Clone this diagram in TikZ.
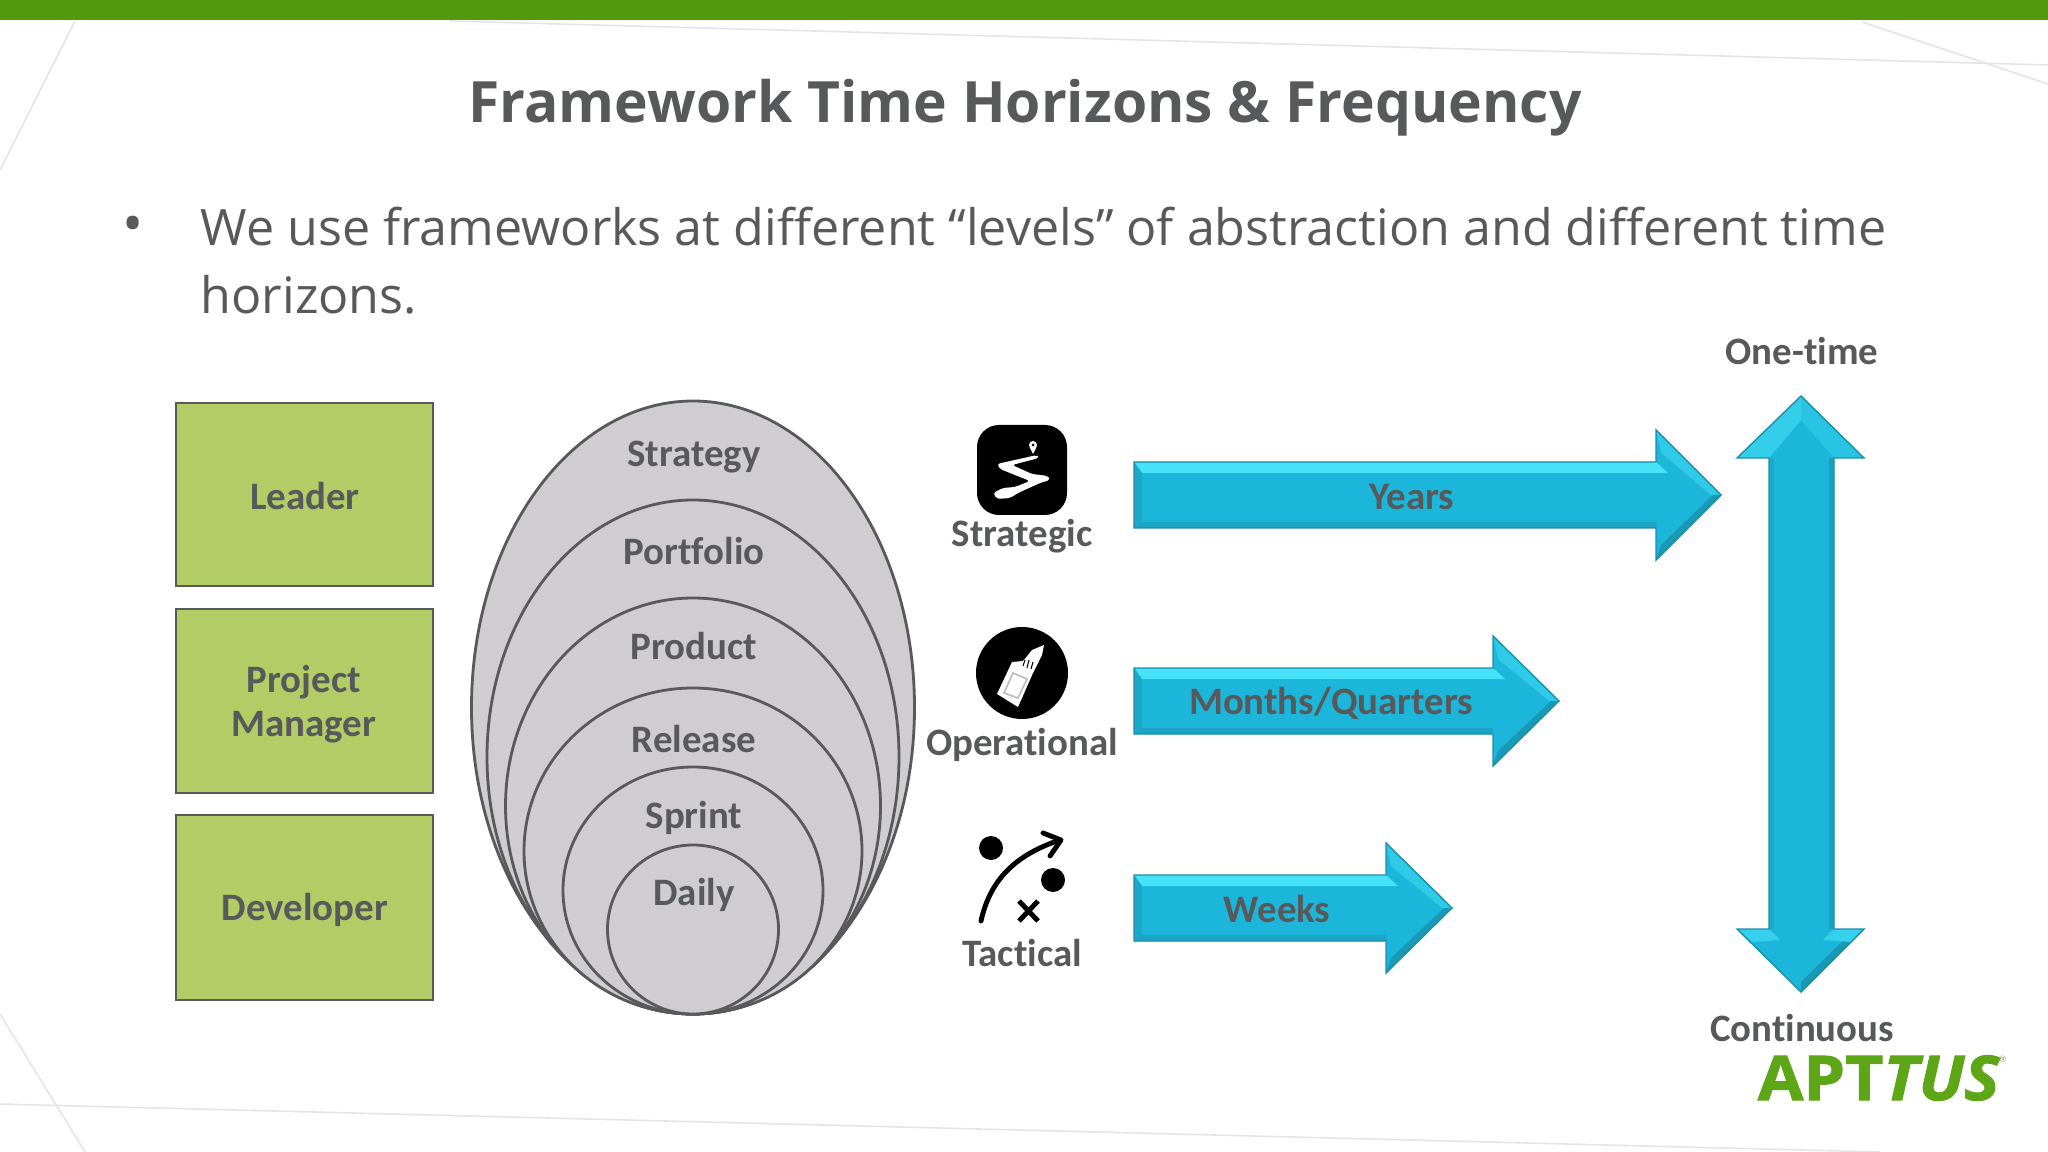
\documentclass[tikz,border=0pt]{standalone}
\usepackage{fontspec}
\setmainfont{Open Sans}
\newfontfamily\lblfont[Ligatures=NoCommon]{Carlito}
\newfontfamily\logofont[BoldFeatures={FakeBold=1.6,FakeStretch=1.07},BoldItalicFeatures={FakeBold=1.6,FakeStretch=1.07}]{Open Sans}
\usetikzlibrary{calc}
\definecolor{slate}{HTML}{58595B}
\definecolor{barGreen}{HTML}{52990E}
\definecolor{logoGreen}{HTML}{5CA617}
\definecolor{boxGreen}{HTML}{B3CC66}
\definecolor{ringGray}{HTML}{CFCDD0}
\definecolor{faint}{HTML}{E6E4E8}
\definecolor{cyanMain}{HTML}{1BB6DA}
\definecolor{cyanLight}{HTML}{48E2F8}
\definecolor{cyanDark}{HTML}{1A8FAB}
\tikzset{
	rolebox/.style={draw=slate, fill=boxGreen, line width=0.85pt},
	ring/.style={draw=slate, fill=ringGray, line width=0.8pt},
	faintline/.style={draw=faint, line width=0.45pt},
	lbl/.style={text=slate, font=\lblfont\bfseries\fontsize{11.05}{12.6}\selectfont, align=center, inner sep=0pt},
}
% x left : head base x : tip x : middle y
\def\blockarrow(#1:#2:#3:#4){
	\fill[cyanMain] (#1, #4-33) -- (#2, #4-33) -- (#2, #4-65) -- (#3, #4) -- (#2, #4+65) -- (#2, #4+33) -- (#1, #4+33) -- cycle;
	\fill[cyanLight] (#1, #4-33) -- (#2, #4-33) -- (#2+12, #4-22) -- (#1+8, #4-22) -- cycle;
	\fill[cyanDark!35!cyanMain] (#1, #4-33) -- (#1+8, #4-22) -- (#1+8, #4+27) -- (#1, #4+33) -- cycle;
	\fill[cyanDark!45!cyanMain] (#1, #4+33) -- (#1+8, #4+27) -- (#2, #4+27) -- (#2, #4+33) -- cycle;
	\fill[cyanLight!45!cyanMain] (#2, #4-65) -- (#3, #4) -- (#3-10, #4) -- (#2+5, #4-42) -- cycle;
	\fill[cyanDark!75!cyanMain] (#2, #4+65) -- (#3, #4) -- (#3-8, #4) -- (#2+5, #4+50) -- cycle;
	\draw[cyanDark, line width=0.4pt] (#1, #4-33) -- (#2, #4-33) -- (#2, #4-65) -- (#3, #4) -- (#2, #4+65) -- (#2, #4+33) -- (#1, #4+33) -- cycle;
}

\begin{document}
\begin{tikzpicture}[x=0.01cm, y=-0.01cm]
	\useasboundingbox (0, 0) rectangle (2048, 1152);
	
	%%%%% BACKGROUND %%%%%
	\draw[faintline] (450, 21) -- (2048, 65);
	\draw[faintline] (1862, 22) -- (2048, 84);
	\draw[faintline] (75, 21) -- (0, 170);
	\draw[faintline] (0, 1104) -- (1880, 1152);
	\draw[faintline] (0, 1014) -- (85, 1152);
	\fill[barGreen] (0, 0) rectangle (2048, 20);
	
	%%%%% HEADER %%%%%
	\node[text=slate, font=\bfseries\fontsize{16.2}{20}\selectfont, inner sep=0pt] (title) at (1025, 108) {Framework Time Horizons \& Frequency};
	\node[text=slate, font=\fontsize{16}{20}\selectfont, inner sep=0pt] (bullet) at (133, 230) {\textbullet};
	\node[text=slate, font=\fontsize{14.28}{19.4}\selectfont, inner sep=0pt, anchor=north west, align=left] (intro) at (200, 206) {We use frameworks at different “levels” of abstraction and different time\\horizons.};
	
	%%%%% ROLES %%%%%
	\draw[rolebox] (176, 403) rectangle (433, 586);
	\node[lbl] (leader) at (305, 496) {Leader};
	\draw[rolebox] (176, 609) rectangle (433, 793);
	\node[lbl] (manager) at (304, 704) {Project\\Manager};
	\draw[rolebox] (176, 815) rectangle (433, 1000);
	\node[lbl] (developer) at (305, 910) {Developer};
	
	%%%%% LEVELS %%%%%
	\draw[ring] (693, 707.5) ellipse (221.5 and 306.5);
	\draw[ring] (693, 757) ellipse (206 and 257);
	\draw[ring] (693, 806) ellipse (187.5 and 208);
	\draw[ring] (693, 851) ellipse (169 and 163);
	\draw[ring] (693, 890.5) ellipse (130 and 123.5);
	\draw[ring] (693, 929.5) ellipse (85.5 and 84.5);
	\node[lbl] (strategy) at (694, 457) {Strategy};
	\node[lbl] (portfolio) at (694, 551) {Portfolio};
	\node[lbl] (product) at (694, 646) {Product};
	\node[lbl] (release) at (694, 739) {Release};
	\node[lbl] (sprint) at (694, 818) {Sprint};
	\node[lbl] (daily) at (694, 895) {Daily};
	
	%%%%% ICONS %%%%%
	\fill[black, rounded corners=2.2mm] (977, 425) rectangle (1067, 515);
	\fill[white] (1033, 445) circle (4);
	\fill[white] (1029.5, 447) -- (1033, 454) -- (1036.5, 447) -- cycle;
	\fill[black] (1033, 445) circle (1.5);
	\fill[white, rounded corners=0.3mm] (1037, 455) -- (1039, 458) -- (1012, 465) -- (1032, 474) -- (1048, 476) -- (1050, 480) -- (1040, 483) -- (1018, 493) -- (1010, 498) -- (997, 499) -- (993, 493) -- (1003, 488) -- (1015, 487) -- (1030, 481) -- (1000, 469) -- (997, 464) -- cycle;
	
	\fill[black] (1022, 673) circle (46);
	\fill[white] (997, 694) -- (1012, 662) -- (1023, 661) -- (1028, 655) -- (1032, 650) -- (1044, 645) -- (1042, 655) -- (1037, 665) -- (1033, 673) -- (1018, 707) -- cycle;
	\draw[black!25, line width=0.5pt] (1004, 693) -- (1013, 673) -- (1027, 679) -- (1018, 698) -- cycle;
	\draw[black, line width=0.3pt] (1025, 660) -- (1023, 666);
	\draw[black, line width=0.3pt] (1029, 660) -- (1027, 668);
	\draw[black, line width=0.3pt] (1033, 662) -- (1031, 669);
	
	\fill[black] (991, 848) circle (12);
	\fill[black] (1053, 880) circle (12);
	\draw[black, line width=1.4pt, line cap=round, line join=round] (981, 921) .. controls (990, 880) and (1015, 855) .. (1060, 840);
	\draw[black, line width=1.4pt, line cap=round, line join=round] (1043, 833) -- (1061, 840) -- (1050, 856);
	\draw[black, line width=1.4pt] (1019, 901) -- (1038, 921);
	\draw[black, line width=1.4pt] (1038, 901) -- (1019, 921);
	
	\node[lbl] (strategic) at (1022, 536) {Strategic};
	\node[lbl] (operational) at (1022, 745) {Operational};
	\node[lbl] (tactical) at (1022, 953) {Tactical};
	
	%%%%% HORIZONS %%%%%
	\blockarrow(1134:1656:1721:495)
	\blockarrow(1134:1493:1559:701)
	\blockarrow(1134:1386:1452:908)
	\node[lbl] (years) at (1412, 497) {Years};
	\node[lbl] (months) at (1331, 703) {Months/Quarters};
	\node[lbl] (weeks) at (1277, 909) {Weeks};
	
	\fill[cyanMain] (1801, 396) -- (1864, 458) -- (1834, 458) -- (1834, 929) -- (1864, 929) -- (1801, 992) -- (1737, 929) -- (1769, 929) -- (1769, 458) -- (1737, 458) -- cycle;
	\fill[cyanLight!55!cyanMain] (1801, 396) -- (1737, 458) -- (1769, 458) -- (1801, 420) -- cycle;
	\fill[cyanLight!30!cyanMain] (1801, 396) -- (1864, 458) -- (1834, 458) -- (1801, 420) -- cycle;
	\fill[cyanDark!40!cyanMain] (1769, 458) rectangle (1774, 929);
	\fill[cyanDark!60!cyanMain] (1829, 458) rectangle (1834, 929);
	\fill[cyanDark!80!cyanMain] (1801, 992) -- (1864, 929) -- (1852, 932) -- (1801, 982) -- cycle;
	\fill[cyanLight!60!cyanMain] (1737, 929) -- (1769, 929) -- (1780, 940) -- (1752, 942) -- cycle;
	\fill[cyanLight!60!cyanMain] (1864, 929) -- (1834, 929) -- (1823, 940) -- (1851, 942) -- cycle;
	\draw[cyanDark, line width=0.4pt] (1801, 396) -- (1864, 458) -- (1834, 458) -- (1834, 929) -- (1864, 929) -- (1801, 992) -- (1737, 929) -- (1769, 929) -- (1769, 458) -- (1737, 458) -- cycle;
	\node[lbl] (onetime) at (1802, 351) {One-time};
	\node[lbl] (continuous) at (1802, 1028) {Continuous};
	
	%%%%% LOGO %%%%%
	\node[text=logoGreen, font=\logofont\bfseries\fontsize{17.6}{20}\selectfont, inner sep=0pt] (logo) at (1879, 1078) {APT\textit{TUS}};
	\node[text=slate!60, font=\fontsize{2.5}{3}\selectfont, inner sep=0pt] (regmark) at (2003, 1059) {®};
	
\end{tikzpicture}
\end{document}
